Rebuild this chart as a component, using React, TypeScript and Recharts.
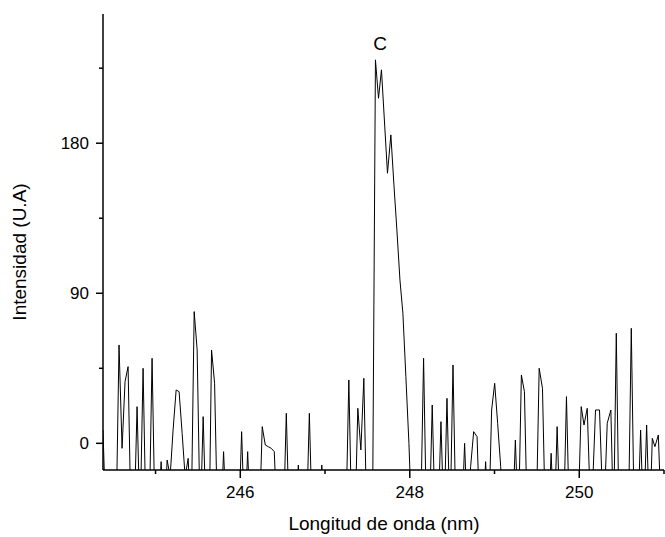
import React from 'react';
import { LineChart, Line, XAxis, YAxis } from 'recharts';

// points below the visible floor of the plot (clipped by the x axis)
const L = -50;

const wavelength = [
  244.380, 244.415, 244.534, 244.569, 244.605, 244.640, 244.676, 244.711, 244.746, 244.782,
  244.817, 244.853, 244.888, 244.924, 244.959, 244.995, 245.030, 245.066, 245.101, 245.137,
  245.172, 245.207, 245.243, 245.278, 245.314, 245.349, 245.385, 245.420, 245.456, 245.491,
  245.527, 245.562, 245.598, 245.633, 245.661, 245.697, 245.732, 245.768, 245.803, 245.839,
  245.980, 246.016, 246.051, 246.087, 246.122, 246.224, 246.259, 246.295, 246.330, 246.366,
  246.401, 246.437, 246.508, 246.543, 246.579, 246.650, 246.685, 246.720, 246.780, 246.815,
  246.850, 246.926, 246.962, 246.997, 247.245, 247.281, 247.316, 247.352, 247.387, 247.423,
  247.458, 247.494, 247.560, 247.595, 247.631, 247.666, 247.737, 247.777, 247.813, 247.848,
  247.884, 247.919, 247.954, 247.990, 248.025, 248.127, 248.163, 248.198, 248.230, 248.265,
  248.301, 248.333, 248.368, 248.404, 248.439, 248.475, 248.510, 248.546, 248.612, 248.647,
  248.683, 248.718, 248.754, 248.794, 248.829, 248.860, 248.895, 248.931, 248.966, 249.002,
  249.037, 249.073, 249.108, 249.211, 249.246, 249.282, 249.317, 249.353, 249.388, 249.491,
  249.527, 249.566, 249.601, 249.633, 249.668, 249.704, 249.739, 249.775, 249.814, 249.849,
  249.885, 249.983, 250.023, 250.056, 250.094, 250.139, 250.192, 250.239, 250.287, 250.330,
  250.373, 250.405, 250.437, 250.470, 250.579, 250.614, 250.650, 250.689, 250.724, 250.759,
  250.795, 250.830, 250.862, 250.893, 250.933, 250.972, 251.008,
];

const intensity = [
  8, L, L, 59, -3, 37, 46, L, L, 22,
  L, 45, L, L, 51, L, L, -11, L, -10,
  -20, 8, 32, 31, 6, -20, -9, L, 79, 56,
  L, 16, L, L, 56, 36, L, L, -5, L,
  L, 7, L, -5, L, L, 10, -1, -2, -3,
  -5, L, L, 18, L, L, -13, L, L, 18,
  L, L, -13, L, L, 38, L, L, 21, -4,
  39, L, L, 230, 207, 224, 162, 185, 155, 128,
  98, 78, 40, 0, L, L, 51, L, L, 23,
  L, L, 13, L, 27, L, 47, L, L, 0,
  L, -14, 7, 4, L, L, -11, L, 20, 36,
  12, -14, L, L, 2, L, 41, 31, L, L,
  45, 33, L, L, -6, L, 10, L, L, 28,
  L, L, 22, 11, 21, L, 20, 20, L, 12,
  20, L, 66, L, L, 69, L, L, 8, L,
  11, L, 3, -2, 5, L, L,
];

const xTicks = [245, 246, 247, 248, 249, 250, 251];
const xLabels = [246, 248, 250];
const yTicks = [0, 45, 90, 135, 180, 225];
const yLabels = [0, 90, 180];

const data = wavelength.map((w, i) => ({ w, v: intensity[i] }));

const FONT = 'Liberation Sans, Arial, sans-serif';
const PLOT_LEFT = 103;
const PLOT_BOTTOM = 470;

const YTick = ({ y, payload }: any) => {
  const major = yLabels.includes(payload.value);
  return (
    <g>
      <line x1={PLOT_LEFT - (major ? 7 : 4)} x2={PLOT_LEFT} y1={y} y2={y} stroke="#000" strokeWidth={1.5} />
      {major && (
        <text x={PLOT_LEFT - 14} y={y + 6} textAnchor="end" fontSize={17} fontFamily={FONT} fill="#000">
          {payload.value}
        </text>
      )}
    </g>
  );
};

const XTick = ({ x, payload }: any) => {
  const major = xLabels.includes(payload.value);
  return (
    <g>
      <line x1={x} x2={x} y1={PLOT_BOTTOM} y2={PLOT_BOTTOM + (major ? 8 : 4)} stroke="#000" strokeWidth={1.5} />
      {major && (
        <text x={x} y={498} textAnchor="middle" fontSize={17} fontFamily={FONT} fill="#000">
          {payload.value}
        </text>
      )}
    </g>
  );
};

export default function App() {
  return (
    <div style={{ position: 'absolute', left: 0, top: 0, width: 665, height: 537, background: '#fff' }}>
      <LineChart width={665} height={537} data={data} margin={{ top: 14, right: 1, bottom: 0, left: 43 }}>
        <XAxis
          dataKey="w"
          type="number"
          domain={[244.38, 251.0]}
          ticks={xTicks}
          allowDataOverflow
          height={67}
          tickLine={false}
          axisLine={{ stroke: '#000', strokeWidth: 1.5 }}
          tick={<XTick />}
          interval={0}
        />
        <YAxis
          type="number"
          domain={[-16, 257.5]}
          ticks={yTicks}
          allowDataOverflow
          width={60}
          tickLine={false}
          axisLine={{ stroke: '#000', strokeWidth: 1.5 }}
          tick={<YTick />}
          interval={0}
        />
        <Line
          type="linear"
          dataKey="v"
          stroke="#000"
          strokeWidth={1}
          dot={false}
          isAnimationActive={false}
        />
      </LineChart>
      <svg width={665} height={537} style={{ position: 'absolute', left: 0, top: 0, pointerEvents: 'none' }}>
        <text x={380} y={50} textAnchor="middle" fontSize={19} fontFamily={FONT} fill="#000">C</text>
        <text x={384} y={530} textAnchor="middle" fontSize={19} fontFamily={FONT} fill="#000">
          Longitud de onda (nm)
        </text>
        <text
          transform="translate(26, 252) rotate(-90)"
          textAnchor="middle"
          fontSize={19}
          fontFamily={FONT}
          fill="#000"
        >
          Intensidad (U.A)
        </text>
      </svg>
    </div>
  );
}
